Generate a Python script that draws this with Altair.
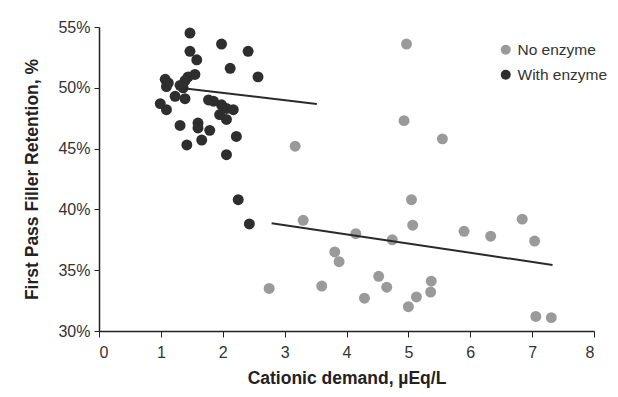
import altair as alt
import pandas as pd

# With enzyme data (cationic demand, retention %)
with_x = [1.47, 1.98, 2.41, 1.47, 1.58, 2.12, 2.57, 1.55, 1.44, 1.39, 1.07, 1.12,
          1.09, 1.31, 1.36, 1.23, 1.39, 0.99, 1.09, 1.77, 1.85, 1.98, 2.06, 2.17,
          1.95, 2.06, 1.31, 1.60, 1.60, 1.79, 2.22, 1.42, 1.66, 2.06, 2.25, 2.43]
with_y = [54.5, 53.6, 53.0, 53.0, 52.3, 51.6, 50.9, 51.1, 50.9, 50.6, 50.7, 50.4,
          50.1, 50.2, 50.0, 49.3, 49.1, 48.7, 48.2, 49.0, 48.9, 48.6, 48.3, 48.2,
          47.8, 47.4, 46.9, 47.1, 46.7, 46.5, 46.0, 45.3, 45.7, 44.5, 40.8, 38.8]

# No enzyme data
no_x = [4.97, 4.93, 5.55, 3.17, 5.05, 3.30, 5.07, 4.15, 4.74, 3.81, 3.88, 4.52, 5.37,
        2.75, 3.60, 4.65, 5.36, 4.29, 5.13, 5.00, 5.90, 6.33, 6.84, 7.04, 7.06, 7.31]
no_y = [53.6, 47.3, 45.8, 45.2, 40.8, 39.1, 38.7, 38.0, 37.5, 36.5, 35.7, 34.5, 34.1,
        33.5, 33.7, 33.6, 33.2, 32.7, 32.8, 32.0, 38.2, 37.8, 39.2, 37.4, 31.2, 31.1]

# Trend line endpoints
trend_with_x = [1.36, 3.52]
trend_with_y = [49.96, 48.67]
trend_no_x = [2.79, 7.33]
trend_no_y = [38.86, 35.43]

series_names = ["No enzyme", "With enzyme"]
series_colors = ["#9a9a9a", "#2e2e2e"]

pts = pd.DataFrame({
    "x": no_x + with_x,
    "y": [v / 100 for v in no_y + with_y],
    "series": ["No enzyme"] * len(no_x) + ["With enzyme"] * len(with_x),
})
lines = pd.DataFrame({
    "x": trend_no_x + trend_with_x,
    "y": [v / 100 for v in trend_no_y + trend_with_y],
    "series": ["No enzyme"] * 2 + ["With enzyme"] * 2,
})

xscale = alt.Scale(domain=[0, 8], nice=False, zero=False)
yscale = alt.Scale(domain=[0.30, 0.55], nice=False, zero=False)

xaxis = alt.Axis(title="Cationic demand, µEq/L", values=list(range(0, 9)), format="d",
                 grid=False, tickSize=6, labelPadding=7, titlePadding=9)
yaxis = alt.Axis(title="First Pass Filler Retention, %", values=[0.30, 0.35, 0.40, 0.45, 0.50, 0.55],
                 format=".0%", grid=False, tickSize=5, labelPadding=4, titlePadding=16)

points = alt.Chart(pts).mark_circle(size=120, opacity=1).encode(
    x=alt.X("x:Q", scale=xscale, axis=xaxis),
    y=alt.Y("y:Q", scale=yscale, axis=yaxis),
    color=alt.Color("series:N", scale=alt.Scale(domain=series_names, range=series_colors),
                    legend=alt.Legend(title=None, orient="none", legendX=399, legendY=15,
                                      symbolSize=100, labelFontSize=15.5, rowPadding=8,
                                      labelOffset=4, symbolType="circle", labelColor="#333")),
)

trend = alt.Chart(lines).mark_line(color="#2a2a2a", strokeWidth=2).encode(
    x=alt.X("x:Q", scale=xscale),
    y=alt.Y("y:Q", scale=yscale),
    detail="series:N",
)

chart = alt.layer(points, trend).properties(
    width=495, height=304,
    autosize=alt.AutoSizeParams(type="none"),
    padding={"left": 91, "top": 19, "right": 16, "bottom": 60},
).configure_view(stroke=None).configure_axis(
    domainColor="#222", tickColor="#222", labelColor="#333", titleColor="#222",
    labelFont="Liberation Sans", titleFont="Liberation Sans",
    labelFontSize=16, titleFontSize=17.5, titleFontWeight="bold", domainWidth=1.5,
).configure_legend(labelFont="Liberation Sans")

chart.save("out.html", embed_options={"renderer": "svg", "actions": False})
